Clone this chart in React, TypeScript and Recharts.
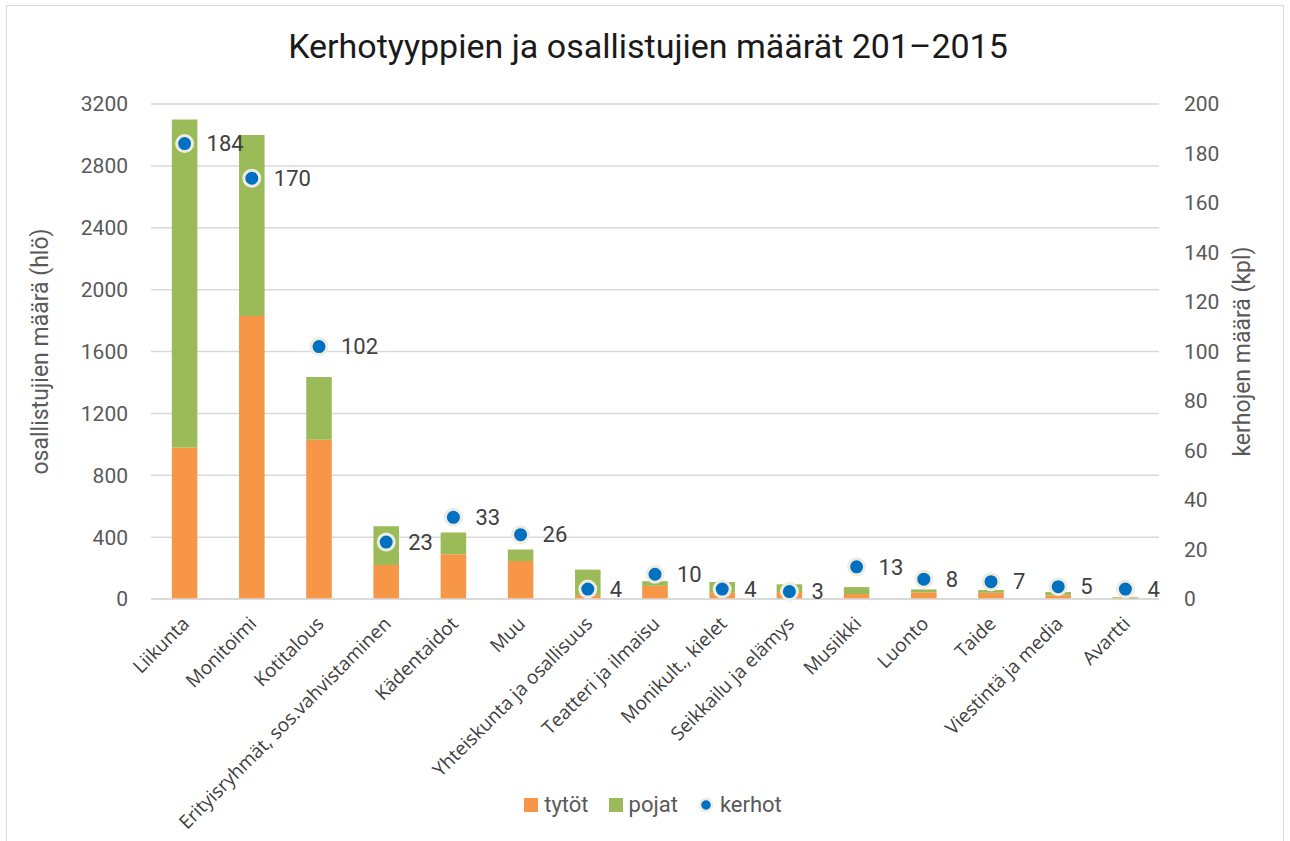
import { Bar, CartesianGrid, ComposedChart, LabelList, Legend, Line, XAxis, YAxis } from "recharts";

const categories = [
  "Liikunta",
  "Monitoimi",
  "Kotitalous",
  "Erityisryhmät, sos.vahvistaminen",
  "Kädentaidot",
  "Muu",
  "Yhteiskunta ja osallisuus",
  "Teatteri ja ilmaisu",
  "Monikult., kielet",
  "Seikkailu ja elämys",
  "Musiikki",
  "Luonto",
  "Taide",
  "Viestintä ja media",
  "Avartti",
];
const tytot = [980, 1830, 1030, 220, 290, 245, 25, 85, 40, 45, 32, 43, 40, 24, 10];
const pojat = [2120, 1170, 405, 250, 140, 75, 165, 30, 70, 50, 45, 19, 18, 21, 3];
const kerhot = [184, 170, 102, 23, 33, 26, 4, 10, 4, 3, 13, 8, 7, 5, 4];

const leftTicks = [0, 400, 800, 1200, 1600, 2000, 2400, 2800, 3200];
const minorTicks = [
  0, 100, 200, 300, 400, 500, 600, 700, 800, 900, 1000, 1100, 1200, 1300, 1400, 1500, 1600,
  1700, 1800, 1900, 2000, 2100, 2200, 2300, 2400, 2500, 2600, 2700, 2800, 2900, 3000, 3100, 3200,
];
const rightTicks = [0, 20, 40, 60, 80, 100, 120, 140, 160, 180, 200];

const data = categories.map((name, i) => ({ name, tytot: tytot[i], pojat: pojat[i], kerhot: kerhot[i] }));

const FONT = "Roboto, 'Liberation Sans', sans-serif";
const ORANGE = "#f79646";
const GREEN = "#9bbb59";
const BLUE = "#0070c0";
const RING = "#eeece1";

// rotated category labels, end of text sits just under the bar
function CategoryTick({ x, y, payload }: any) {
  const tx = x + 1;
  const ty = y + 13;
  return (
    <text
      x={tx}
      y={ty}
      transform={`rotate(-45, ${tx}, ${ty})`}
      textAnchor="end"
      dominantBaseline="central"
      fontFamily="'Open Sans', sans-serif"
      fontSize={19}
      fill="#404040"
    >
      {payload.value}
    </text>
  );
}

function LegendBox() {
  const item = { display: "flex", alignItems: "center", gap: 6 } as const;
  return (
    <div
      style={{
        display: "flex",
        justifyContent: "center",
        gap: 20,
        paddingLeft: 46,
        fontFamily: FONT,
        fontSize: 22,
        color: "#595959",
      }}
    >
      <span style={item}>
        <span style={{ width: 14, height: 14, background: ORANGE, display: "inline-block" }} />
        tytöt
      </span>
      <span style={item}>
        <span style={{ width: 14, height: 14, background: GREEN, display: "inline-block" }} />
        pojat
      </span>
      <span style={item}>
        <svg width={16} height={16}>
          <circle cx={8} cy={8} r={6} fill={BLUE} stroke={RING} strokeWidth={2.5} />
        </svg>
        kerhot
      </span>
    </div>
  );
}

export default function App() {
  return (
    <div style={{ position: "absolute", left: 0, top: 0, width: 1290, height: 841, background: "#fff" }}>
      <div
        style={{
          position: "absolute",
          left: 6,
          top: 5,
          width: 1278,
          height: 840,
          border: "1px solid #d9d9d9",
          boxSizing: "border-box",
        }}
      />
      <div
        style={{
          position: "absolute",
          top: 26,
          left: 0,
          width: 1296,
          textAlign: "center",
          fontFamily: FONT,
          fontSize: 34,
          color: "#1a1a1a",
        }}
      >
        Kerhotyyppien ja osallistujien määrät 201–2015
      </div>
      <ComposedChart
        width={1290}
        height={841}
        data={data}
        margin={{ top: 104, right: 51, left: 21, bottom: 9 }}
        barCategoryGap="69%"
        style={{ position: "absolute", left: 0, top: 0 }}
      >
        <YAxis yAxisId="minor" hide domain={[0, 3200]} ticks={minorTicks} />
        <CartesianGrid yAxisId="minor" vertical={false} stroke="#f2f2f2" strokeWidth={1.5} />
        <CartesianGrid yAxisId="left" vertical={false} stroke="#d9d9d9" strokeWidth={1.5} />
        <XAxis
          dataKey="name"
          interval={0}
          height={193}
          tick={<CategoryTick />}
          tickLine={false}
          axisLine={{ stroke: "#d9d9d9", strokeWidth: 1.5 }}
        />
        <YAxis
          yAxisId="left"
          domain={[0, 3200]}
          ticks={leftTicks}
          width={130}
          axisLine={false}
          tickLine={false}
          tickMargin={17}
          tick={{ fontFamily: FONT, fontSize: 21, fill: "#595959" }}
          label={{
            value: "osallistujien määrä (hlö)",
            angle: -90,
            position: "insideLeft",
            offset: 19,
            style: { fontFamily: FONT, fontSize: 23, fill: "#595959", textAnchor: "middle" },
          }}
        />
        <YAxis
          yAxisId="right"
          orientation="right"
          domain={[0, 200]}
          ticks={rightTicks}
          width={80}
          axisLine={false}
          tickLine={false}
          tickMargin={19}
          tick={{ fontFamily: FONT, fontSize: 21, fill: "#595959", textAnchor: "start" }}
          label={{
            value: "kerhojen määrä (kpl)",
            angle: -90,
            position: "insideRight",
            offset: -3,
            style: { fontFamily: FONT, fontSize: 23, fill: "#595959", textAnchor: "middle" },
          }}
        />
        <Legend verticalAlign="bottom" height={40} content={<LegendBox />} />
        <Bar yAxisId="left" dataKey="tytot" name="tytöt" stackId="a" fill={ORANGE} isAnimationActive={false} />
        <Bar yAxisId="left" dataKey="pojat" name="pojat" stackId="a" fill={GREEN} isAnimationActive={false} />
        <Line
          yAxisId="right"
          dataKey="kerhot"
          name="kerhot"
          stroke="none"
          dot={{ r: 8, fill: BLUE, stroke: RING, strokeWidth: 3 }}
          activeDot={false}
          isAnimationActive={false}
        >
          <LabelList
            dataKey="kerhot"
            position="right"
            offset={22}
            style={{ fontFamily: FONT, fontSize: 22, fill: "#404040" }}
          />
        </Line>
      </ComposedChart>
    </div>
  );
}
